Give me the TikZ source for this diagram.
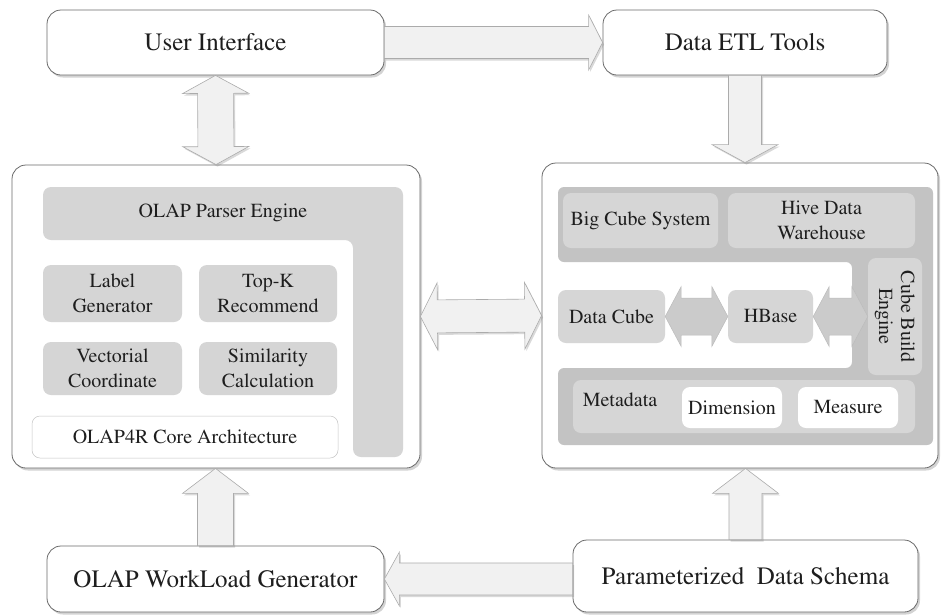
\documentclass[tikz,border=0pt]{standalone}
\usepackage[T1]{fontenc}
\renewcommand\rmdefault{ptm}
\usetikzlibrary{calc,shadows}

\definecolor{txt}{HTML}{1E1E1E}
\definecolor{boxline}{HTML}{6A6A6A}
\definecolor{arrfill}{HTML}{F1F1F1}
\definecolor{arrline}{HTML}{ABABAB}
\definecolor{lgray}{HTML}{D5D5D5}
\definecolor{dgray}{HTML}{C3C3C3}
\definecolor{ingray}{HTML}{D6D6D6}
\definecolor{inarrow}{HTML}{CBCBCB}

% single block arrow: style, from, to, shaft half-width, head half-width, head length
\newcommand\fatsingle[6]{%
  \coordinate (fsh) at ($(#3)!#6!(#2)$);
  \path[#1] ($(#2)!#4!90:(#3)$) -- ($(fsh)!#4!90:(#3)$) -- ($(fsh)!#5!90:(#3)$)
    -- (#3) -- ($(fsh)!#5!-90:(#3)$) -- ($(fsh)!#4!-90:(#3)$)
    -- ($(#2)!#4!-90:(#3)$) -- cycle;}
% double block arrow, same arguments
\newcommand\fatdouble[6]{%
  \coordinate (fdA) at ($(#2)!#6!(#3)$);
  \coordinate (fdB) at ($(#3)!#6!(#2)$);
  \path[#1] (#2) -- ($(fdA)!#5!90:(#3)$) -- ($(fdA)!#4!90:(#3)$)
    -- ($(fdB)!#4!90:(#3)$) -- ($(fdB)!#5!90:(#3)$) -- (#3)
    -- ($(fdB)!#5!-90:(#3)$) -- ($(fdB)!#4!-90:(#3)$)
    -- ($(fdA)!#4!-90:(#3)$) -- ($(fdA)!#5!-90:(#3)$) -- cycle;}

\tikzset{
  box/.style={draw=boxline, fill=white, rounded corners=14pt, line width=0.8pt,
    drop shadow={shadow xshift=2pt, shadow yshift=-2.5pt, opacity=0.35},
    text=txt, font=\fontsize{25}{30}\selectfont, inner sep=0pt},
  fat/.style={fill=arrfill, draw=arrline, line width=0.6pt,
    drop shadow={shadow xshift=1.5pt, shadow yshift=-2pt, opacity=0.3}},
  innerfat/.style={fill=inarrow, draw=arrline!80, line width=0.5pt},
  item/.style={fill=#1, rounded corners=8pt, text=txt, align=center,
    font=\fontsize{20}{25}\selectfont, inner sep=0pt},
  item/.default=lgray,
  label/.style={text=txt, font=\fontsize{20}{25}\selectfont, inner sep=0pt}
}

\begin{document}
\begin{tikzpicture}[x=1pt, y=-1pt]
\useasboundingbox (0,0) rectangle (941,614);

% outer boxes
\node[box, minimum width=337pt, minimum height=65pt] (ui)  at (215.5,42.5) {User Interface};
\node[box, minimum width=284pt, minimum height=65pt] (etl) at (745,42.5) {Data ETL Tools};
\node[box, minimum width=408pt, minimum height=303pt] (left)  at (216,316.5) {};
\node[box, minimum width=396pt, minimum height=305pt] (right) at (740,315.5) {};
\node[box, minimum width=337pt, minimum height=66pt] (wlg) at (215.5,579) {OLAP WorkLoad Generator};
\node[box, minimum width=345pt, minimum height=72pt] (pds) at (745.5,576) {Parameterized\ \ Data Schema};

% OLAP4R core architecture
\path[fill=lgray, rounded corners=8pt] (43,187) -- (403,187) -- (403,457) -- (353,457)
  -- (353,240) -- (43,240) -- cycle;
\node[label] (parser) at (223,213) {OLAP Parser Engine};
\node[item, minimum width=139pt, minimum height=57pt] (lg)   at (112.5,293.5) {Label\\Generator};
\node[item, minimum width=138pt, minimum height=57pt] (topk) at (268,293.5) {Top-K\\Recommend};
\node[item, minimum width=139pt, minimum height=53pt] (vc)   at (112.5,368.5) {Vectorial\\Coordinate};
\node[item, minimum width=138pt, minimum height=53pt] (sim)  at (268,368.5) {Similarity\\Calculation};
\node[item=white, draw=arrline!70, line width=0.5pt, minimum width=306pt, minimum height=42pt]
  (core) at (185,437) {OLAP4R Core Architecture};

% big cube system
\path[fill=dgray, rounded corners=6pt] (558,187) -- (933,187) -- (933,445) -- (558,445)
  -- (558,368) -- (852,368) -- (852,262) -- (558,262) -- cycle;
\node[item=ingray, minimum width=155pt, minimum height=55pt] (bcs)  at (640.5,220.5) {Big Cube System};
\node[item=ingray, minimum width=187pt, minimum height=55pt] (hive) at (821.5,220.5) {Hive Data\\Warehouse};
\node[item=ingray, minimum width=54pt, minimum height=117pt] (cbe)  at (895,316.5)
  {\rotatebox{-90}{\begin{tabular}{@{}c@{}}Cube Build\\[-3pt]Engine\end{tabular}}};
\node[item=ingray, minimum width=107pt, minimum height=53pt] (dc) at (611.5,316.5) {Data Cube};
\node[item=ingray, minimum width=85pt, minimum height=53pt]  (hb) at (770.5,316.5) {HBase};
\node[item=ingray, minimum width=342pt, minimum height=53pt] (meta) at (744,406.5) {};
\node[label] (metatxt) at (620,400) {Metadata};
\node[item=white, minimum width=100pt, minimum height=41pt] (dim)  at (732,407.5) {Dimension};
\node[item=white, minimum width=100pt, minimum height=41pt] (meas) at (848,407.5) {Measure};

\coordinate (cbeL) at (hb.east -| cbe.west);
\fatdouble{innerfat}{dc.east}{hb.west}{18.5pt}{30pt}{16pt}
\fatdouble{innerfat}{hb.east}{cbeL}{18.5pt}{30pt}{16pt}

% connectors between the blocks
\coordinate (etlIn) at (etl.south |- right.north);
\coordinate (wlgUp) at (wlg.north |- left.south);
\coordinate (pdsUp) at (pds.north |- right.south);
\coordinate (pdsOut) at (pds.west |- wlg.east);

\fatsingle{fat}{ui.east}{etl.west}{16pt}{27.5pt}{14pt}
\fatdouble{fat}{ui.south}{left.north}{18pt}{33pt}{18pt}
\fatsingle{fat}{etl.south}{etlIn}{16.5pt}{33pt}{18pt}
\fatdouble{fat}{left.east}{right.west}{16.5pt}{33.5pt}{17pt}
\fatsingle{fat}{wlg.north}{wlgUp}{18pt}{33pt}{25pt}
\fatsingle{fat}{pds.north}{pdsUp}{16.5pt}{33pt}{25pt}
\fatsingle{fat}{pdsOut}{wlg.east}{16pt}{27pt}{15pt}
\end{tikzpicture}
\end{document}
